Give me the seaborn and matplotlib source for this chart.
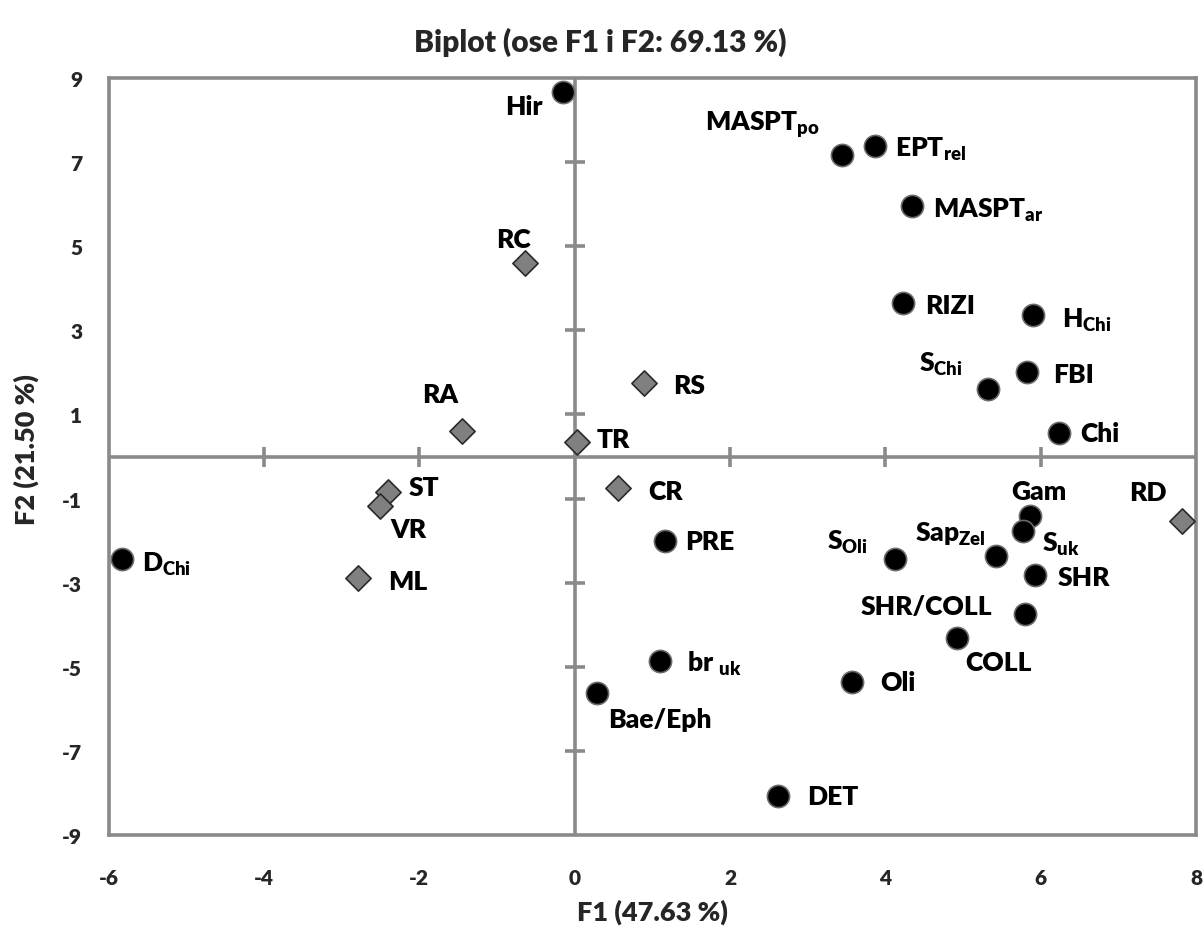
import matplotlib
matplotlib.use("Agg")
import matplotlib.pyplot as plt
import seaborn as sns
import pandas as pd
import numpy as np

# Variables (indices / taxa) projected on F1-F2
var_labels = ["Hir", "MASPT$_{\\rm po}$", "EPT$_{\\rm rel}$", "MASPT$_{\\rm ar}$", "RIZI",
              "H$_{\\rm Chi}$", "FBI", "S$_{\\rm Chi}$", "Chi", "Gam", "S$_{\\rm uk}$", "SHR",
              "Sap$_{\\rm Zel}$", "S$_{\\rm Oli}$", "SHR/COLL", "COLL", "Oli", "DET",
              "br $_{\\rm uk}$", "Bae/Eph", "PRE", "D$_{\\rm Chi}$"]
var_f1 = [-0.15, 3.44, 3.87, 4.34, 4.23, 5.90, 5.83, 5.32, 6.24, 5.86, 5.77, 5.93,
          5.43, 4.13, 5.80, 4.92, 3.57, 2.62, 1.10, 0.29, 1.16, -5.83]
var_f2 = [8.67, 7.17, 7.38, 5.96, 3.65, 3.36, 2.01, 1.60, 0.56, -1.41, -1.77, -2.82,
          -2.37, -2.44, -3.74, -4.32, -5.36, -8.07, -4.86, -5.62, -2.01, -2.44]

# Sites (observations)
site_labels = ["RD", "CR", "TR", "RS", "RC", "RA", "ST", "VR", "ML"]
site_f1 = [7.82, 0.56, 0.03, 0.89, -0.64, -1.45, -2.40, -2.50, -2.79]
site_f2 = [-1.53, -0.75, 0.34, 1.75, 4.60, 0.61, -0.84, -1.18, -2.89]

x_ticks = [-6, -4, -2, 0, 2, 4, 6, 8]
y_ticks = [-9, -7, -5, -3, -1, 1, 3, 5, 7, 9]

title = "Biplot (ose F1 i F2: 69.13 %)"
xlabel = "F1 (47.63 %)"
ylabel = "F2 (21.50 %)"

# label placement: (dx px, dy px upward, horizontal alignment)
label_pos = {
    "Hir": (-20, -14, "right"),
    "MASPT$_{\\rm po}$": (-22, 31, "right"),
    "EPT$_{\\rm rel}$": (20, -2, "left"),
    "MASPT$_{\\rm ar}$": (21, -4, "left"),
    "RIZI": (22, -2, "left"),
    "H$_{\\rm Chi}$": (29, -4, "left"),
    "FBI": (26, -2, "left"),
    "S$_{\\rm Chi}$": (-25, 26, "right"),
    "Chi": (21, 0, "left"),
    "Gam": (9, 25, "center"),
    "S$_{\\rm uk}$": (19, -12, "left"),
    "SHR": (22, -2, "left"),
    "Sap$_{\\rm Zel}$": (-11, 23, "right"),
    "S$_{\\rm Oli}$": (-27, 18, "right"),
    "SHR/COLL": (-33, 8, "right"),
    "COLL": (8, -24, "left"),
    "Oli": (28, 0, "left"),
    "DET": (29, 0, "left"),
    "br $_{\\rm uk}$": (27, -2, "left"),
    "Bae/Eph": (11, -26, "left"),
    "PRE": (20, 0, "left"),
    "D$_{\\rm Chi}$": (20, -4, "left"),
    "RD": (-15, 29, "right"),
    "CR": (30, -3, "left"),
    "TR": (20, 3, "left"),
    "RS": (29, -2, "left"),
    "RC": (6, 24, "right"),
    "RA": (-4, 37, "right"),
    "ST": (20, 5, "left"),
    "VR": (10, -23, "left"),
    "ML": (30, -3, "left"),
}

sns.set_theme(style="white")
plt.rcParams["font.family"] = ["Lato", "DejaVu Sans"]
plt.rcParams["font.weight"] = "heavy"
plt.rcParams["axes.unicode_minus"] = False
plt.rcParams["mathtext.fontset"] = "custom"
plt.rcParams["mathtext.rm"] = "Lato:heavy"
plt.rcParams["mathtext.it"] = "Lato:heavy"
plt.rcParams["mathtext.bf"] = "Lato:heavy"

GRAY = "#8a8a8a"
PX = 0.72  # points per pixel at 100 dpi
W = "heavy"

fig = plt.figure(figsize=(12.03, 9.45), dpi=100)
ax = fig.add_axes([0.0902, 0.1153, 0.904, 0.8011])

vars_df = pd.DataFrame({"F1": var_f1, "F2": var_f2, "label": var_labels})
sites_df = pd.DataFrame({"F1": site_f1, "F2": site_f2, "label": site_labels})

# axes through the origin with cross ticks
ax.axhline(0, color=GRAY, lw=2.6, zorder=1)
ax.axvline(0, color=GRAY, lw=2.6, zorder=1)
xt_inner = [t for t in x_ticks if t not in (0, x_ticks[0], x_ticks[-1])]
yt_inner = [t for t in y_ticks if t not in (y_ticks[0], y_ticks[-1])]
ax.plot(xt_inner, np.zeros(len(xt_inner)), ls="none", marker="|", ms=15, mew=2.6,
        color=GRAY, zorder=1)
ax.plot(np.zeros(len(yt_inner)), yt_inner, ls="none", marker="_", ms=15, mew=2.6,
        color=GRAY, zorder=1)

sns.scatterplot(data=sites_df, x="F1", y="F2", marker="D", s=165, color="#808080",
                edgecolor="#2a2a2a", linewidth=1.2, ax=ax, zorder=3, legend=False)
sns.scatterplot(data=vars_df, x="F1", y="F2", marker="o", s=255, color="black",
                edgecolor="#6a6a6a", linewidth=1.2, ax=ax, zorder=4, legend=False)

for df in (vars_df, sites_df):
    for _, r in df.iterrows():
        dx, dy, ha = label_pos[r["label"]]
        ax.annotate(r["label"], (r["F1"], r["F2"]), xytext=(dx * PX, dy * PX),
                    textcoords="offset points", ha=ha, va="center",
                    fontsize=19, fontweight=W, color="black", zorder=5)

ax.set_xlim(x_ticks[0], x_ticks[-1])
ax.set_ylim(y_ticks[0], y_ticks[-1])
ax.set_xticks(x_ticks, labels=[str(t) for t in x_ticks], fontweight=W, fontsize=15)
ax.set_yticks(y_ticks, labels=[str(t) for t in y_ticks], fontweight=W, fontsize=15)
ax.tick_params(axis="both", length=0)
ax.tick_params(axis="y", pad=19)
ax.tick_params(axis="x", pad=24)
ax.set_xlabel("")
ax.set_ylabel("")
for sp in ax.spines.values():
    sp.set_color(GRAY)
    sp.set_linewidth(2.6)
    sp.set_visible(True)

fig.text(600 / 1203, 1 - 42 / 945, title, ha="center", va="center",
         fontsize=21.5, fontweight=W)
fig.text(652 / 1203, 1 - 912 / 945, xlabel, ha="center", va="center",
         fontsize=19.5, fontweight=W)
fig.text(26 / 1203, 1 - 450 / 945, ylabel, ha="center", va="center",
         fontsize=19.5, fontweight=W, rotation=90)

fig.savefig("out.png", dpi=100, facecolor="white")
